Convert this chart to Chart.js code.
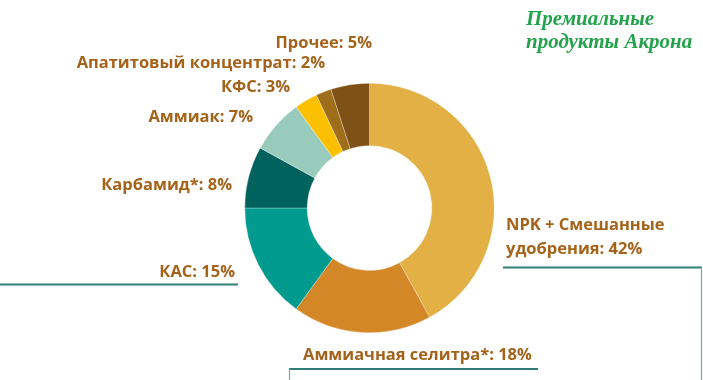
<!DOCTYPE html>
<html>
<head>
<meta charset="utf-8">
<script src="https://cdn.jsdelivr.net/npm/chart.js@4"></script>
<style>
  html, body { margin: 0; padding: 0; background: #fff; }
  #wrap { position: relative; width: 703px; height: 380px; }
</style>
</head>
<body>
<div id="wrap"><canvas id="productsChart" width="703" height="380"></canvas></div>
<script>
// Data: product mix, % (clockwise from 12 o'clock)
const categories = [
  "NPK + Смешанные удобрения",
  "Аммиачная селитра*",
  "КАС",
  "Карбамид*",
  "Аммиак",
  "КФС",
  "Апатитовый концентрат",
  "Прочее",
];
const shares = [42, 18, 15, 8, 7, 3, 2, 5];
const sliceColors = ["#E3B045", "#D48726", "#009A8E", "#00625C", "#99CBBD", "#FDC000", "#9E6E1B", "#7F5117"];
const titleLines = ["Премиальные", "продукты Акрона"];

// label placement (text annotations, not data)
const labelSpots = [
  { x: 506, y: 225, align: "left", wrapAfter: "Смешанные" },
  { x: 303, y: 355, align: "left" },
  { x: 235, y: 272, align: "right" },
  { x: 232, y: 185, align: "right" },
  { x: 253, y: 117, align: "right" },
  { x: 290, y: 87, align: "right" },
  { x: 325, y: 63, align: "right" },
  { x: 372, y: 43, align: "right" },
];

const labelPlugin = {
  id: "labelPlugin",
  afterDraw(chart) {
    const ctx = chart.ctx;
    ctx.save();
    // connector / frame lines
    ctx.strokeStyle = "#2E7D76";
    ctx.lineWidth = 2;
    ctx.beginPath();
    ctx.moveTo(0, 284.5); ctx.lineTo(238, 284.5);
    ctx.moveTo(289, 369); ctx.lineTo(538, 369);
    ctx.moveTo(503, 267.5); ctx.lineTo(702, 267.5);
    ctx.stroke();
    ctx.strokeStyle = "#6DB0A8";
    ctx.lineWidth = 1.2;
    ctx.beginPath();
    ctx.moveTo(289.5, 369); ctx.lineTo(289.5, 380);
    ctx.moveTo(701.5, 267); ctx.lineTo(701.5, 380);
    ctx.stroke();

    // slice labels
    ctx.fillStyle = "#A5631A";
    ctx.font = "bold 16.5px 'Open Sans', Lato, sans-serif";
    ctx.textBaseline = "middle";
    categories.forEach((cat, i) => {
      const spot = labelSpots[i];
      const text = cat + ": " + shares[i] + "%";
      ctx.textAlign = spot.align;
      if (spot.wrapAfter) {
        const cut = text.indexOf(spot.wrapAfter) + spot.wrapAfter.length;
        ctx.fillText(text.slice(0, cut), spot.x, spot.y);
        ctx.fillText(text.slice(cut).trim(), spot.x, spot.y + 24);
      } else {
        ctx.fillText(text, spot.x, spot.y);
      }
    });

    // title
    ctx.fillStyle = "#23A34B";
    ctx.font = "italic bold 21px 'Liberation Serif', serif";
    ctx.textAlign = "left";
    titleLines.forEach((line, i) => ctx.fillText(line, 526, 20 + i * 23));
    ctx.restore();
  },
};

const ctx = document.getElementById("productsChart").getContext("2d");
const productsChart = new Chart(ctx, {
  type: "doughnut",
  data: {
    labels: categories,
    datasets: [
      {
        data: shares,
        backgroundColor: sliceColors,
        borderColor: "rgba(255,255,255,0.6)",
        borderWidth: 0.5,
      },
    ],
  },
  options: {
    responsive: false,
    animation: false,
    cutout: "50%",
    rotation: 0,
    layout: {
      padding: { left: 244, right: 208, top: 83, bottom: 47 },
    },
    plugins: {
      legend: { display: false },
      tooltip: { enabled: false },
    },
  },
  plugins: [labelPlugin],
});
</script>
</body>
</html>
